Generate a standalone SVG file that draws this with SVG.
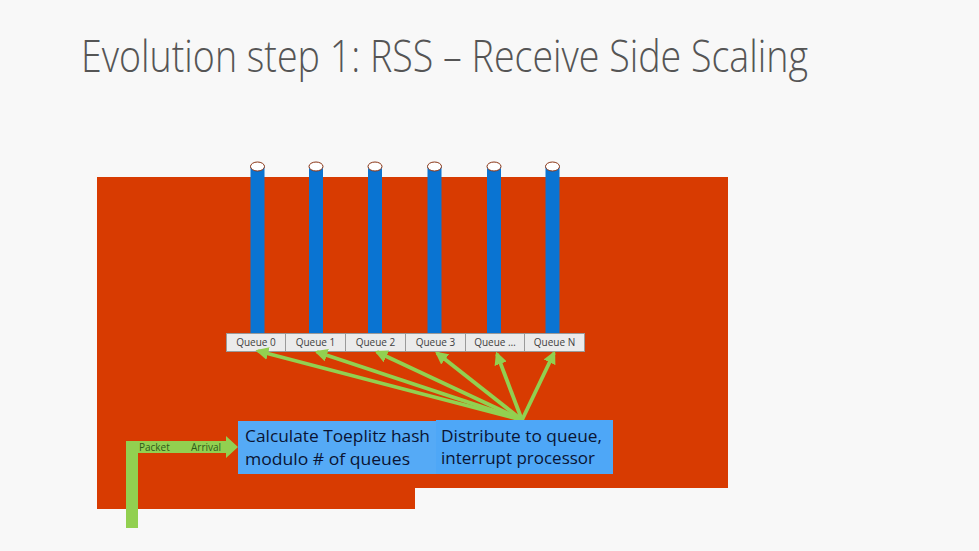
<svg xmlns="http://www.w3.org/2000/svg" width="979" height="551" viewBox="0 0 979 551">
<defs>
<style>
.title{font-family:"Open Sans","Noto Sans","Liberation Sans",sans-serif;font-weight:300;font-size:45px;fill:#555555}
.qbox{fill:#ebebeb;stroke:#9a9a9a;stroke-width:1}
.qtxt{font-family:"Open Sans","Noto Sans","Liberation Sans",sans-serif;font-size:10px;fill:#404040;text-anchor:middle}
.cyl{fill:#0A74D2}
.cap{fill:#ffffff;stroke:#8a3414;stroke-width:1}
.conn{stroke:#92D050;stroke-width:3.8;fill:none;marker-end:url(#ah)}
.btxt{font-family:"Open Sans","Noto Sans","Liberation Sans",sans-serif;font-size:17px;fill:#0a1433}
.gtxt{font-family:"Open Sans","Noto Sans","Liberation Sans",sans-serif;font-size:10px;fill:#2f5a1a}
</style>
<marker id="ah" viewBox="0 0 10 10" refX="8" refY="5" markerWidth="3.4" markerHeight="3.4" orient="auto" markerUnits="strokeWidth">
<path d="M0,0 L10,5 L0,10 z" fill="#92D050"/>
</marker>
</defs>
<rect width="979" height="551" fill="#f8f8f8"/>
<text class="title" x="81" y="72" textLength="727" lengthAdjust="spacingAndGlyphs">Evolution step 1: RSS – Receive Side Scaling</text>
<polygon id="nic" points="97,177 728,177 728,488 415,488 415,509 97,509" fill="#D83B01"/>
<g id="cylinders">
<g id="cyl0"><rect class="cyl" x="250.5" y="166" width="14" height="168"/><ellipse class="cap" cx="257.5" cy="166.5" rx="7" ry="4.5"/></g>
<g id="cyl1"><rect class="cyl" x="309" y="166" width="14" height="168"/><ellipse class="cap" cx="316" cy="166.5" rx="7" ry="4.5"/></g>
<g id="cyl2"><rect class="cyl" x="368" y="166" width="14" height="168"/><ellipse class="cap" cx="375" cy="166.5" rx="7" ry="4.5"/></g>
<g id="cyl3"><rect class="cyl" x="427.5" y="166" width="14" height="168"/><ellipse class="cap" cx="434.5" cy="166.5" rx="7" ry="4.5"/></g>
<g id="cyl4"><rect class="cyl" x="487" y="166" width="14" height="168"/><ellipse class="cap" cx="494" cy="166.5" rx="7" ry="4.5"/></g>
<g id="cyl5"><rect class="cyl" x="545.5" y="166" width="14" height="168"/><ellipse class="cap" cx="552.5" cy="166.5" rx="7" ry="4.5"/></g>
</g>
<g id="queue0"><rect class="qbox" x="226.5" y="333.5" width="59" height="18"/><text class="qtxt" x="256" y="346">Queue 0</text></g>
<g id="queue1"><rect class="qbox" x="285.5" y="333.5" width="60" height="18"/><text class="qtxt" x="315.5" y="346">Queue 1</text></g>
<g id="queue2"><rect class="qbox" x="345.5" y="333.5" width="60" height="18"/><text class="qtxt" x="375.5" y="346">Queue 2</text></g>
<g id="queue3"><rect class="qbox" x="405.5" y="333.5" width="60" height="18"/><text class="qtxt" x="435.5" y="346">Queue 3</text></g>
<g id="queue4"><rect class="qbox" x="465.5" y="333.5" width="59" height="18"/><text class="qtxt" x="495" y="346">Queue …</text></g>
<g id="queue5"><rect class="qbox" x="524.5" y="333.5" width="60" height="18"/><text class="qtxt" x="554.5" y="346">Queue N</text></g>
<g id="connectors">
<line class="conn" x1="522" y1="420" x2="258" y2="351"/>
<line class="conn" x1="522" y1="420" x2="317" y2="352"/>
<line class="conn" x1="522" y1="420" x2="377" y2="352"/>
<line class="conn" x1="522" y1="420" x2="437" y2="353"/>
<line class="conn" x1="522" y1="420" x2="497" y2="354"/>
<line class="conn" x1="522" y1="420" x2="554" y2="353"/>
</g>
<g id="hash">
<rect x="238" y="421" width="199" height="53" fill="#55AAF6"/>
<text class="btxt" x="245" y="442" textLength="185" lengthAdjust="spacingAndGlyphs">Calculate Toeplitz hash</text>
<text class="btxt" x="245" y="465" textLength="165" lengthAdjust="spacingAndGlyphs">modulo # of queues</text>
</g>
<g id="distribute">
<rect x="436" y="420" width="177" height="54" fill="#4EA7F7"/>
<text class="btxt" x="441" y="442" textLength="161" lengthAdjust="spacingAndGlyphs">Distribute to queue,</text>
<text class="btxt" x="441" y="464" textLength="154" lengthAdjust="spacingAndGlyphs">interrupt processor</text>
</g>
<g id="packet-arrival">
<polygon points="126,528 126,441 226,441 226,436 238,447 226,458 226,453 138,453 138,528" fill="#92D050"/>
<text class="gtxt" x="139" y="451">Packet</text>
<text class="gtxt" x="191" y="451">Arrival</text>
</g>
</svg>
